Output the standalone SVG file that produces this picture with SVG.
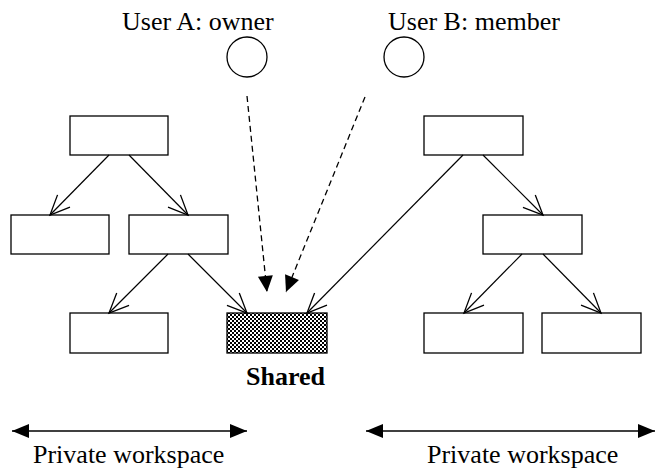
<svg xmlns="http://www.w3.org/2000/svg" width="657" height="469" viewBox="0 0 657 469">
  <style>
    .box { fill: #fff; stroke: #000; stroke-width: 1.3; }
    .user { fill: #fff; stroke: #000; stroke-width: 1.3; }
    .link { fill: none; stroke: #000; stroke-width: 1.2; marker-end: url(#open); }
    .access { fill: none; stroke: #000; stroke-width: 1.3; stroke-dasharray: 6 4; marker-end: url(#solid); }
    .span { fill: none; stroke: #000; stroke-width: 1.5; marker-start: url(#solidStart); marker-end: url(#solidEnd); }
    .label { font-family: "Liberation Serif", "Times New Roman", serif; font-size: 26px; fill: #000; }
    .bold { font-weight: bold; }
  </style>
  <defs>
    <marker id="open" markerUnits="userSpaceOnUse" markerWidth="24" markerHeight="24" viewBox="-20 -10 22 20" refX="0" refY="0" orient="auto" overflow="visible">
      <path d="M-18,-8 L0,0 L-18,8" fill="none" stroke="#000" stroke-width="1.2"/>
    </marker>
    <marker id="solid" markerUnits="userSpaceOnUse" markerWidth="20" markerHeight="20" viewBox="-18 -10 20 20" refX="0" refY="0" orient="auto" overflow="visible">
      <path d="M0,0 L-16,-7.5 L-16,7.5 Z" fill="#000"/>
    </marker>
    <marker id="solidEnd" markerUnits="userSpaceOnUse" markerWidth="20" markerHeight="20" viewBox="-18 -10 20 20" refX="0" refY="0" orient="auto" overflow="visible">
      <path d="M0,0 L-17,-7 L-17,7 Z" fill="#000"/>
    </marker>
    <marker id="solidStart" markerUnits="userSpaceOnUse" markerWidth="20" markerHeight="20" viewBox="-2 -10 20 20" refX="0" refY="0" orient="auto" overflow="visible">
      <path d="M0,0 L17,-7 L17,7 Z" fill="#000"/>
    </marker>
    <pattern id="checker" patternUnits="userSpaceOnUse" width="4" height="4">
      <rect width="4" height="4" fill="#fff"/>
      <rect x="0" y="0" width="2" height="2" fill="#000"/>
      <rect x="2" y="2" width="2" height="2" fill="#000"/>
    </pattern>
  </defs>

  <!-- users -->
  <g id="userA">
    <text class="label" x="122" y="30">User A: owner</text>
    <circle class="user" cx="247" cy="57" r="20"/>
  </g>
  <g id="userB">
    <text class="label" x="388" y="30">User B: member</text>
    <circle class="user" cx="404" cy="57" r="20"/>
  </g>

  <!-- left workspace tree -->
  <g id="leftRoot"><rect class="box" x="70" y="116" width="98" height="39"/></g>
  <g id="leftChild1"><rect class="box" x="11" y="215" width="98" height="39"/></g>
  <g id="leftChild2"><rect class="box" x="129" y="215" width="99" height="39"/></g>
  <g id="leftLeaf"><rect class="box" x="70" y="313" width="98" height="40"/></g>

  <!-- shared item -->
  <g id="shared">
    <rect x="227" y="313" width="100" height="40" fill="url(#checker)" stroke="#000" stroke-width="1.3"/>
    <text class="label bold" x="285.5" y="385" text-anchor="middle">Shared</text>
  </g>

  <!-- right workspace tree -->
  <g id="rightRoot"><rect class="box" x="424" y="116" width="99" height="39"/></g>
  <g id="rightChild"><rect class="box" x="483" y="215" width="99" height="39"/></g>
  <g id="rightLeaf1"><rect class="box" x="424" y="313" width="99" height="40"/></g>
  <g id="rightLeaf2"><rect class="box" x="542" y="313" width="99" height="40"/></g>

  <!-- connectors -->
  <g id="connectors">
    <line class="link" x1="109" y1="155" x2="50" y2="215"/>
    <line class="link" x1="129" y1="155" x2="188" y2="215"/>
    <line class="link" x1="168" y1="254" x2="109" y2="313"/>
    <line class="link" x1="188" y1="254" x2="247" y2="313"/>
    <line class="link" x1="463" y1="155" x2="307" y2="313"/>
    <line class="link" x1="483" y1="155" x2="543" y2="215"/>
    <line class="link" x1="522" y1="254" x2="464" y2="313"/>
    <line class="link" x1="543" y1="254" x2="601" y2="313"/>
    <line class="access" x1="247" y1="96" x2="267" y2="292"/>
    <line class="access" x1="365" y1="97" x2="286" y2="292"/>
  </g>

  <!-- workspace extents -->
  <g id="leftWorkspace">
    <line class="span" x1="12" y1="431" x2="247" y2="431"/>
    <text class="label" x="33" y="463">Private workspace</text>
  </g>
  <g id="rightWorkspace">
    <line class="span" x1="366" y1="431" x2="655" y2="431"/>
    <text class="label" x="427" y="463">Private workspace</text>
  </g>
</svg>
